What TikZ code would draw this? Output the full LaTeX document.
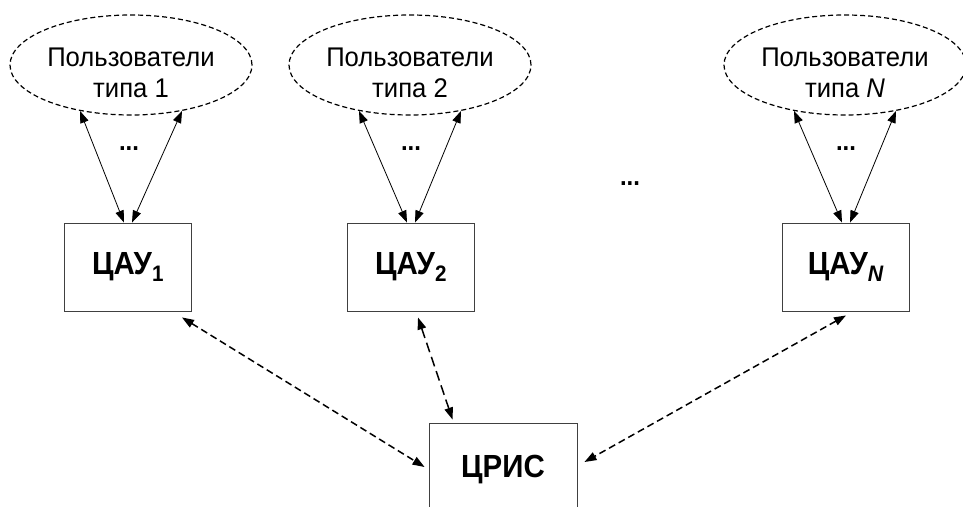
\documentclass[tikz,border=0pt]{standalone}
\usepackage{fontspec}
\setmainfont{Liberation Sans}[FakeStretch=0.95,BoldFeatures={FakeStretch=0.92}]
\usetikzlibrary{arrows.meta,shapes.geometric,positioning}

\begin{document}
\begin{tikzpicture}[x=1pt,y=-1pt,>={Triangle[length=12pt,width=8.5pt]},
    users/.style={ellipse,draw,dash pattern=on 5pt off 3pt,line width=1.2pt,
        minimum width=242pt,minimum height=100pt,inner sep=0pt},
    usertext/.style={font=\fontsize{27}{31}\selectfont,align=center},
    unit/.style={rectangle,draw=black!75,line width=0.9pt,minimum width=127pt,
        minimum height=88pt,font=\fontsize{32}{36}\selectfont\bfseries},
    dots/.style={font=\fontsize{26}{30}\selectfont\bfseries},
    link/.style={<->,line width=0.8pt},
    dlink/.style={<->,line width=1.5pt,dash pattern=on 7pt off 4pt}]
    \useasboundingbox (0,0) rectangle (963,506);
    \clip (0,0) rectangle (963,506);

    % user groups
    \node [users,label={[usertext,yshift=-8pt]center:Пользователи\\типа 1}] (u1) at (131,65) {};
    \node [users,label={[usertext,yshift=-8pt]center:Пользователи\\типа 2}] (u2) at (410,65) {};
    \node [users,label={[usertext,yshift=-8pt]center:Пользователи\\типа \textit{N}}] (uN) at (845,65) {};

    % control units
    \node [unit] (c1) at (128,267) {ЦАУ\textsubscript{1}};
    \node [unit] (c2) at (411,267) {ЦАУ\textsubscript{2}};
    \node [unit] (cN) at (846,267) {ЦАУ\textsubscript{\textit{N}}};
    \node [unit,minimum width=148pt,minimum height=94pt] (cris) at (503,470) {ЦРИС};

    \node [dots] (d1) at (129,149) {...};
    \node [dots] (d2) at (411,149) {...};
    \node [dots] (dN) at (846,149) {...};
    \node [dots] (dm) at (630,184) {...};

    \path[link] (u1.222) edge ([xshift=-4pt]c1.north);
    \path[link] (u1.318) edge ([xshift=4pt]c1.north);
    \path[link] (u2.222) edge ([xshift=-4pt]c2.north);
    \path[link] (u2.318) edge ([xshift=4pt]c2.north);
    \path[link] (uN.222) edge ([xshift=-4pt]cN.north);
    \path[link] (uN.318) edge ([xshift=4pt]cN.north);

    \path[dlink] ([xshift=-10pt,yshift=-6pt]c1.south east) edge ([xshift=-4pt,yshift=3pt]cris.west);
    \path[dlink,dash pattern=on 10pt off 5pt] ([xshift=7pt,yshift=-6pt]c2.south) edge ([xshift=24pt,yshift=3pt]cris.north west);
    \path[dlink] ([yshift=-4pt]cN.south) edge ([xshift=7pt,yshift=8pt]cris.east);

\end{tikzpicture}
\end{document}
